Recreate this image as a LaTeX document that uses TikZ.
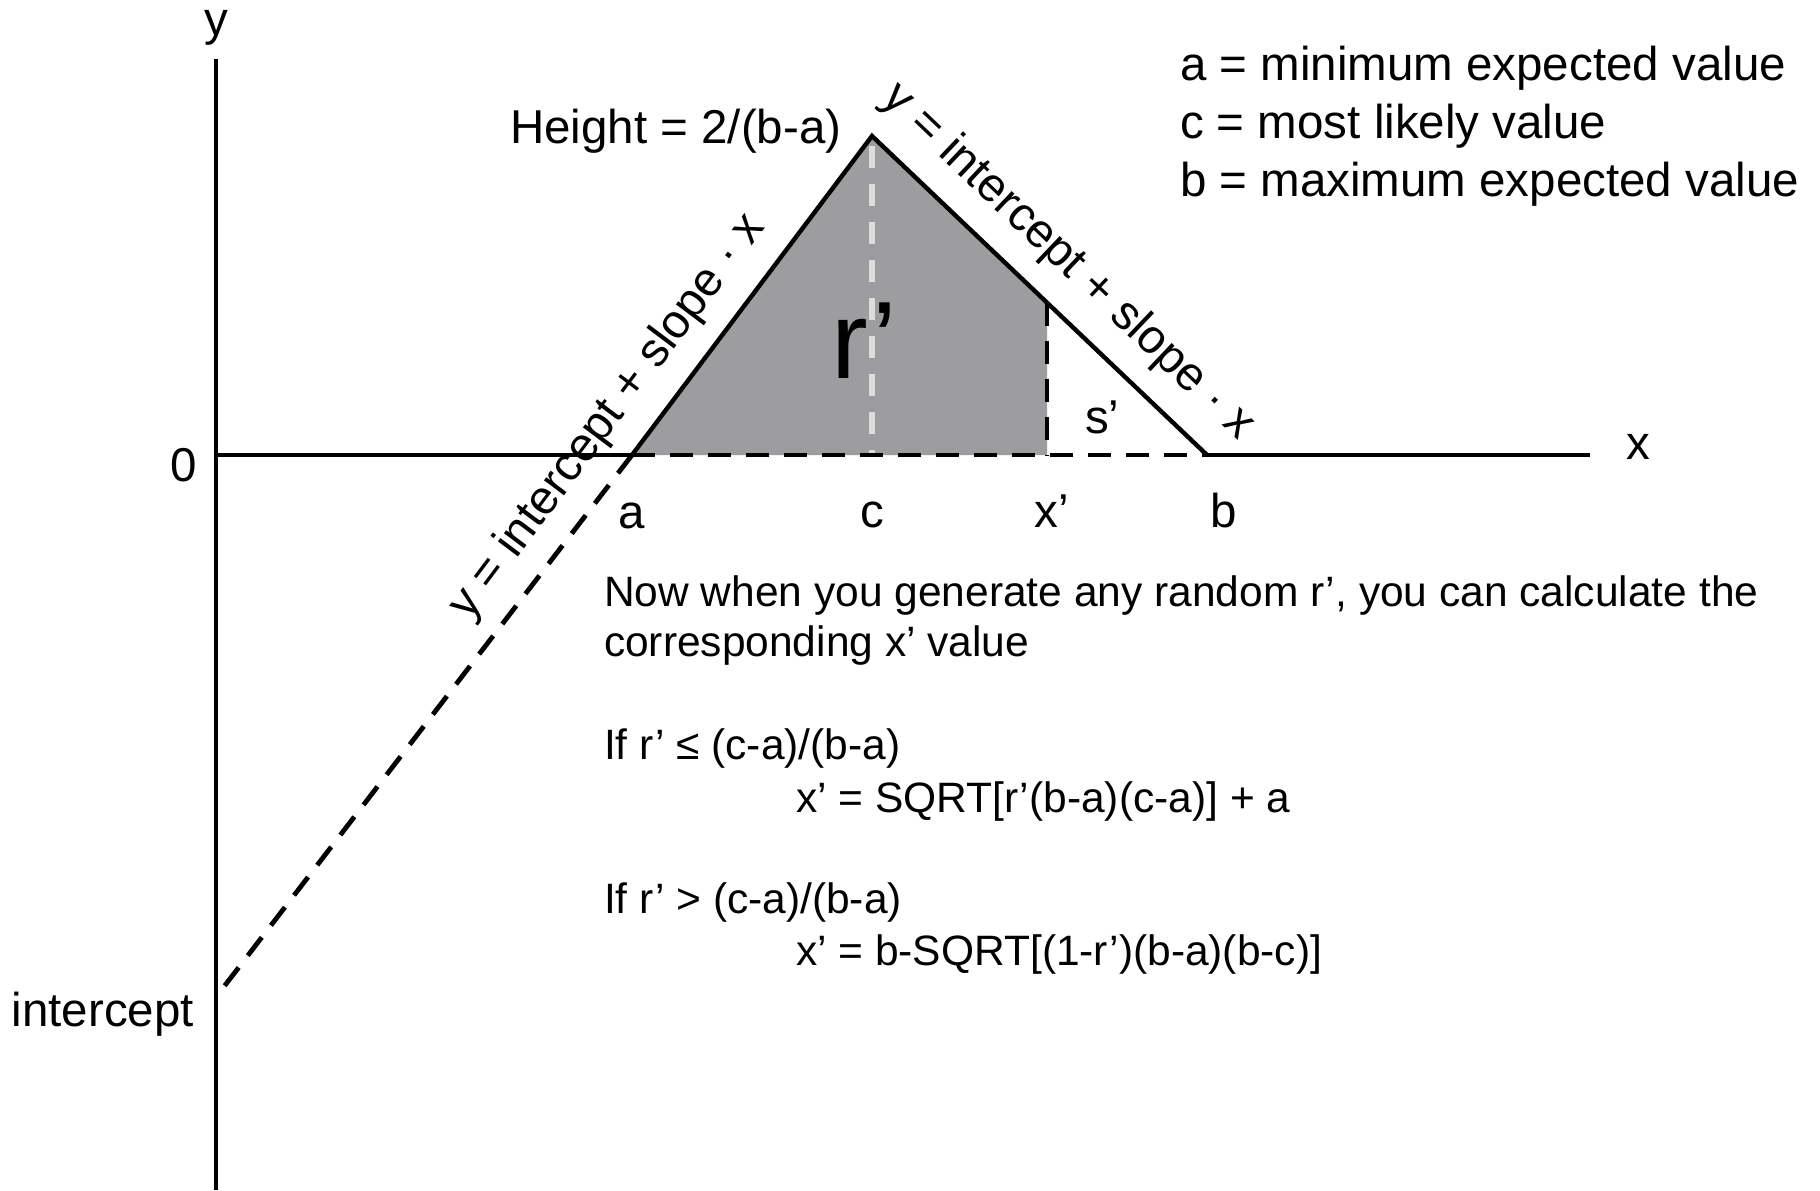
\documentclass[tikz,border=0pt]{standalone}
\usepackage{fontspec}
\setmainfont{Liberation Sans}
\definecolor{fillgray}{RGB}{157,157,160}
\definecolor{lightdash}{RGB}{220,220,220}
\begin{document}
\begin{tikzpicture}[x=0.5pt,y=-0.5pt,
  lbl/.style={inner sep=0pt,outer sep=0pt,font=\fontsize{23.75}{28.5}\selectfont},
  body/.style={inner sep=0pt,outer sep=0pt,anchor=base west,font=\fontsize{21.25}{25.5}\selectfont},
  axisline/.style={line width=2.4pt,line cap=butt},
  edgeline/.style={line width=2.2pt,line join=miter},
  dashline/.style={line width=2.4pt,dash pattern=on 11.5pt off 7.5pt},
  lightdashline/.style={line width=2.6pt,draw=lightdash,dash pattern=on 11pt off 8pt}]
\useasboundingbox (0,0) rectangle (1820,1190);
% key points
\coordinate (O) at (216,455);
\coordinate (Ytop) at (216,59);
\coordinate (Ybot) at (216,1190);
\coordinate (Xend) at (1590,455);
\coordinate (A) at (632,455);
\coordinate (C) at (872,136);
\coordinate (Ctop) at (872,146);
\coordinate (Cb) at (872,455);
\coordinate (B) at (1207,455);
\coordinate (Xq) at (1047,302.6);
\coordinate (Xp) at (1047,455);
\coordinate (I) at (216,997);
% shaded area r'
\fill[fillgray] (A) -- (C) -- (Xq) -- (Xp) -- cycle;
\draw[lightdashline] (Ctop) -- (Cb);
% dashed parts
\draw[dashline] (A) -- (B);
\draw[dashline] (Xq) -- (Xp);
\draw[dashline] (A) -- (I);
% axes
\draw[axisline] (Ytop) -- (Ybot);
\draw[axisline] (O) -- (A);
\draw[axisline] (B) -- (Xend);
% triangle edges
\draw[edgeline] (A) -- (C) -- (B);
% axis labels
\node[lbl,anchor=base] (ylab) at (216,35) {y};
\node[lbl,anchor=base] (zero) at (184,481) {0};
\node[lbl,anchor=base east] (intlab) at (194,1026) {intercept};
\node[lbl,anchor=base] (xlab) at (1638,459) {x};
\node[lbl,anchor=base] (alab) at (632,528) {a};
\node[lbl,anchor=base] (clab) at (872,527) {c};
\node[lbl,anchor=base] (xplab) at (1052,527) {x’};
\node[lbl,anchor=base] (blab) at (1224,527) {b};
\node[lbl,anchor=base west] (slab) at (1085,433) {s’};
\node[lbl,anchor=base west] (height) at (510,143) {Height = 2/(b-a)};
\node[inner sep=0pt,anchor=base west,font=\fontsize{55}{60}\selectfont] (rlab) at (831,378) {r’};
% slope labels
\node[lbl,anchor=center,rotate=53.04] (leftline) at (608,417) {y = intercept + slope · x};
\node[lbl,anchor=center,rotate=-43.6] (rightline) at (1068,262) {y = intercept + slope · x};
% legend
\node[lbl,anchor=base west] (leg1) at (1180,80) {a = minimum expected value};
\node[lbl,anchor=base west] (leg2) at (1180,138) {c = most likely value};
\node[lbl,anchor=base west] (leg3) at (1180,196) {b = maximum expected value};
% explanation
\node[body] (t1) at (604,606) {Now when you generate any random r’, you can calculate the};
\node[body] (t2) at (604,656) {corresponding x’ value};
\node[body] (t3) at (604,759) {If r’ ≤ (c-a)/(b-a)};
\node[body] (t4) at (796,812) {x’ = SQRT[r’(b-a)(c-a)] + a};
\node[body] (t5) at (604,913) {If r’ > (c-a)/(b-a)};
\node[body] (t6) at (796,965) {x’ = b-SQRT[(1-r’)(b-a)(b-c)]};
\end{tikzpicture}
\end{document}
